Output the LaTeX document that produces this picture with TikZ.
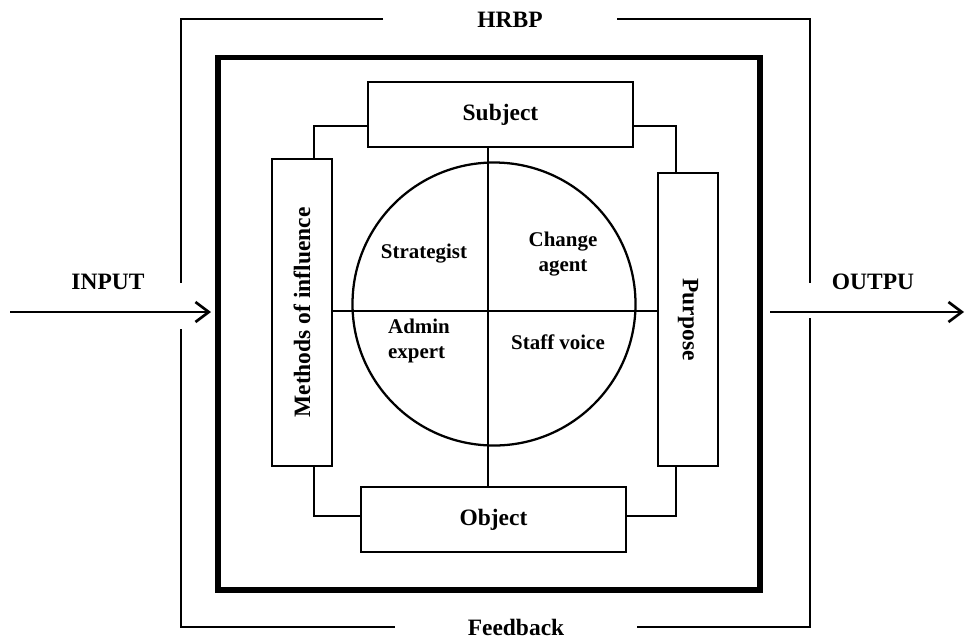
\documentclass[tikz,border=0pt]{standalone}
\usepackage{fontspec}
\setmainfont{Liberation Serif}
\usetikzlibrary{arrows.meta}

\begin{document}
\begin{tikzpicture}[
  x=0.75pt,
  y=-0.75pt,
  every node/.style={inner sep=0pt, outer sep=0pt},
  label/.style={font=\bfseries\fontsize{17.6}{19}\selectfont, align=center},
  quad/.style={font=\bfseries\fontsize{15.7}{18.5}\selectfont, align=center},
  hbox/.style={draw, line width=1.7pt, minimum width=265*0.75pt, minimum height=65*0.75pt, label},
  vbox/.style={draw, line width=1.7pt, minimum height=60*0.75pt, label},
  link/.style={line width=1.7pt},
  frame/.style={line width=4.2pt},
  bracket/.style={line width=2pt},
  flow/.style={line width=2pt, -{Straight Barb[length=10pt, width=15pt, line width=2pt]}}
]

  \useasboundingbox (0,0) rectangle (966,640);

  % HRBP frame
  \draw[frame] (218,57.5) rectangle (760,590);

  % Boxes round the core
  \node[hbox] (subject) at (500.5,114.5) {Subject};
  \node[hbox] (object) at (493.5,519.5) {Object};
  \node[vbox, rotate=90, minimum width=307*0.75pt] (methods) at (302,312.5) {Methods of influence};
  \node[vbox, rotate=-90, minimum width=293*0.75pt] (purpose) at (688,319.5) {Purpose};

  % Core circle and its quarters
  \coordinate (mid) at (488,311);
  \node[draw, circle, line width=1.7pt, minimum size=283*0.75pt] (core) at (494,304) {};
  \draw[link] (mid |- subject.south) -- (mid |- object.north);
  \draw[link] (methods.south |- mid) -- (purpose.south |- mid);
  \node[quad] (strat) at (424,254) {Strategist};
  \node[quad] (change) at (563,254) {Change\\agent};
  \node[quad, align=left] (admin) at (419,341) {Admin\\expert};
  \node[quad] (staff) at (558,342) {Staff voice};

  % Links between boxes
  \draw[link] ([yshift=-8.6pt]subject.west) -| ([xshift=9pt]methods.east);
  \draw[link] ([yshift=-8.6pt]subject.east) -| ([xshift=-9pt]purpose.west);
  \draw[link] ([yshift=2.6pt]object.west) -| ([xshift=9pt]methods.west);
  \draw[link] ([yshift=2.6pt]object.east) -| ([xshift=-9pt]purpose.east);

  % Outer loop
  \node[label] (hrbp) at (510,19.5) {HRBP};
  \node[label] (feedback) at (516,627) {Feedback};
  \draw[bracket] (383,19) -- (181,19) -- (181,283);
  \draw[bracket] (181,329) -- (181,627) -- (395,627);
  \draw[bracket] (617,19) -- (810,19) -- (810,283);
  \draw[bracket] (810,318) -- (810,627) -- (637,627);

  % Input and output
  \node[label] (input) at (108,282) {INPUT};
  \node[label] (output) at (873,282) {OUTPU};
  \coordinate (in0) at (10,312);
  \coordinate (in1) at (211,312);
  \coordinate (out0) at (770,312);
  \coordinate (out1) at (964,312);
  \draw[flow] (in0) -- (in1);
  \draw[flow] (out0) -- (out1);

\end{tikzpicture}
\end{document}
